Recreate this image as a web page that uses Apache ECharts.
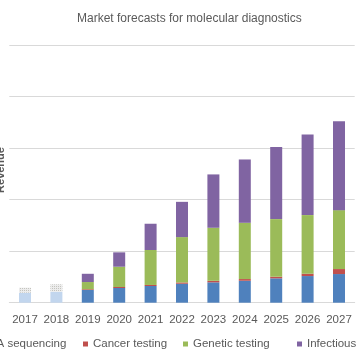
<!DOCTYPE html>
<html>
<head>
<meta charset="utf-8">
<script src="https://cdn.jsdelivr.net/npm/echarts@6/dist/echarts.min.js"></script>
<style>html,body{margin:0;padding:0;background:#fff;}#c{width:356px;height:364px;}</style>
</head>
<body>
<div id="c"></div>
<script>
const categories = ['2017','2018','2019','2020','2021','2022','2023','2024','2025','2026','2027'];
const dnaSequencing = [1.94, 2.13, 2.46, 2.85, 3.24, 3.68, 3.95, 4.26, 4.73, 5.17, 5.56];
const cancerTesting = [null, null, 0.15, 0.2, 0.2, 0.25, 0.3, 0.33, 0.31, 0.45, 0.97];
const geneticTesting = [null, null, 1.4, 3.93, 6.78, 8.8, 10.29, 10.91, 11.18, 11.38, 11.43];
const infectiousDisease = [null, null, 1.6, 2.79, 5.1, 6.84, 10.35, 12.29, 14.01, 15.64, 17.25];
const historicOther = [0.97, 1.43, null, null, null, null, null, null, null, null, null];
const historicCount = 2;

const FONT = 'Liberation Sans, Arial, sans-serif';
const TXT = '#595959';

const dnaData = dnaSequencing.map((v, i) => i < historicCount ? {value: v, itemStyle: {color: '#c2d6ee'}} : v);

const chart = echarts.init(document.getElementById('c'), null, {renderer: 'canvas'});
chart.setOption({
  animation: false,
  title: {
    text: 'Market forecasts for molecular diagnostics',
    left: 77, top: 12, padding: 0,
    textStyle: {fontFamily: FONT, fontSize: 12, fontWeight: 'normal', color: TXT, lineHeight: 14}
  },
  legend: [
    {data: ['DNA sequencing'], left: -30},
    {data: ['Cancer testing'], left: 83},
    {data: ['Genetic testing'], left: 183},
    {data: ['Infectious disease testing'], left: 297}
  ].map(l => Object.assign({
    top: 338, padding: 0, itemWidth: 5, itemHeight: 5, icon: 'rect', width: 400,
    textStyle: {fontFamily: FONT, fontSize: 11.5, color: TXT, overflow: 'none'}
  }, l)),
  graphic: [{
    type: 'text', x: 1, y: 170, rotation: Math.PI / 2,
    style: {text: 'Revenue', font: 'bold 11px ' + FONT, fill: TXT, align: 'center', verticalAlign: 'middle'}
  }],
  grid: {left: 9.3, right: 1.3, top: 45, bottom: 61.3},
  xAxis: {
    type: 'category', data: categories,
    axisLine: {lineStyle: {color: '#d9d9d9'}},
    axisTick: {show: false},
    axisLabel: {interval: 0, margin: 11, fontFamily: FONT, fontSize: 11.5, color: TXT}
  },
  yAxis: {
    type: 'value', min: 0, max: 50, interval: 10,
    axisLabel: {show: false}, axisLine: {show: false}, axisTick: {show: false},
    splitLine: {lineStyle: {color: '#d9d9d9'}}
  },
  series: [
    {name: 'DNA sequencing', type: 'bar', stack: 't', barWidth: 12, data: dnaData, itemStyle: {color: '#4f81bd'}},
    {name: 'Cancer testing', type: 'bar', stack: 't', data: cancerTesting, itemStyle: {color: '#c0504d'}},
    {name: 'Genetic testing', type: 'bar', stack: 't', data: geneticTesting, itemStyle: {color: '#9bbb59'}},
    {name: 'Infectious disease testing', type: 'bar', stack: 't', data: infectiousDisease, itemStyle: {color: '#8064a2'}},
    {name: 'Historic other', type: 'bar', stack: 't', data: historicOther,
      itemStyle: {color: '#ececec', decal: {symbol: 'rect', symbolSize: 1, color: 'rgba(170,170,160,0.6)', dashArrayX: [1, 1], dashArrayY: [1, 1], rotation: 0}}}
  ]
});
</script>
</body>
</html>
